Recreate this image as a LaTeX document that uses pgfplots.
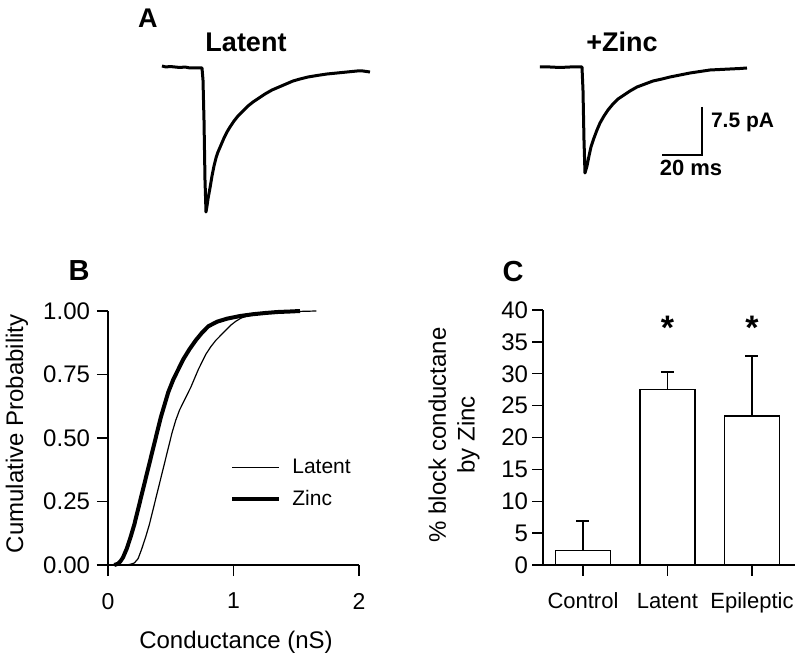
\documentclass[border=0pt]{standalone}
\usepackage{fontspec}
\setmainfont{Liberation Sans}
\usepackage{pgfplots}
\pgfplotsset{compat=1.18}
\newcommand{\fs}[1]{\fontsize{#1}{1.2\dimexpr #1\relax}\selectfont}
\begin{document}
\begin{tikzpicture}
\useasboundingbox (0,0) rectangle (400bp,328.5bp);
% ---------- Panel A: traces (pixel coordinates) ----------
\begin{axis}[at={(0,0)}, anchor=south west, width=400bp, height=328.5bp,
  scale only axis, xmin=0, xmax=800, ymin=0, ymax=657, y dir=reverse,
  hide axis, clip=false]
\addplot[black, line width=1.5bp, line join=round] coordinates {
(162,66) (166,67) (170,66.5) (175,67) (180,67.5) (185,67) (190,68) (195,68)
(200,68) (202,68) (203,80) (204,120) (205,180) (206,212) (207,206) (208,199)
(210,188) (212,176) (214,166) (216,158) (218,152) (221,145) (224,138)
(227,132) (230,127) (234,121) (238,116) (243,111) (248,106) (253,102)
(259,98) (265,94) (272,90) (279,87) (286,84) (293,81) (300,79) (308,77)
(317,75.5) (327,74) (337,73) (347,72) (357,71) (363,71) (370,72)};
\addplot[black, line width=1.5bp, line join=round] coordinates {
(540,67) (550,67) (560,67.5) (570,67) (582,67) (583,90) (584,140) (585,173)
(587,166) (589,156) (591,147) (594,138) (597,130) (600,123) (604,116)
(608,110) (613,104) (618,99) (624,95) (630,91) (637,87) (645,84) (653,81)
(662,79) (670,77) (680,75) (690,73) (700,71.5) (710,70) (720,69.5) (730,69)
(740,68.5) (747,68)};
% scale bar
\addplot[black, line width=0.9bp] coordinates {(702,107) (702,155) (662,155)};
\node[font=\bfseries\fs{10.5bp}, anchor=west] at (axis cs:704,122) {7.5 pA};
\node[font=\bfseries\fs{11bp}] at (axis cs:691,168) {20 ms};
\node[font=\bfseries\fs{13.5bp}] at (axis cs:246,42) {Latent};
\node[font=\bfseries\fs{13.5bp}] at (axis cs:622,42) {+Zinc};
\node[font=\bfseries\fs{13.5bp}] at (axis cs:148,18) {A};
\node[font=\bfseries\fs{14.5bp}] at (axis cs:79,271) {B};
\node[font=\bfseries\fs{14.5bp}] at (axis cs:513,272) {C};
\end{axis}
% ---------- Panel B ----------
\begin{axis}[at={(54bp,46bp)}, anchor=south west, width=125.5bp, height=127bp,
  scale only axis, xmin=0, xmax=2, ymin=0, ymax=1, clip=false,
  axis x line*=bottom, axis y line*=left,
  axis line style={line width=0.7bp, -}, tick align=outside,
  major tick length=5.5bp, tick style={line width=0.7bp, black},
  xtick={0,1,2}, ytick={0,0.25,0.5,0.75,1},
  /pgf/number format/assume math mode=true,
  yticklabel style={font=\fs{12bp}, /pgf/number format/fixed,
    /pgf/number format/fixed zerofill, /pgf/number format/precision=2},
  xticklabel style={font=\fs{11.5bp}, yshift=-5bp},
  label style={font=\fs{12bp}},
  xlabel={Conductance (nS)},
  xlabel style={at={(axis description cs:0.51,-0.305)}, anchor=center},
  ylabel={Cumulative Probability},
  ylabel style={at={(axis description cs:-0.363,0.516)}, anchor=center},
  legend style={draw=none, fill=none, at={(rel axis cs:0.486,0.435)},
    anchor=north west, inner sep=0pt, font=\fs{10.5bp}, row sep=3bp},
  legend cell align=left,
  legend image code/.code={\draw[#1] (0bp,0bp) -- (23.5bp,0bp); \path (27bp,0bp);}]
\addplot[black, line width=0.6bp] coordinates {
(0.15,0) (0.18,0.003) (0.21,0.008) (0.24,0.025) (0.27,0.065) (0.30,0.11)
(0.33,0.16) (0.36,0.22) (0.39,0.28) (0.42,0.34) (0.45,0.40) (0.48,0.46)
(0.51,0.52) (0.54,0.57) (0.57,0.61) (0.60,0.64) (0.63,0.67) (0.66,0.70)
(0.69,0.735) (0.72,0.77) (0.75,0.80) (0.78,0.83) (0.82,0.86) (0.86,0.885)
(0.90,0.905) (0.94,0.925) (0.98,0.945) (1.02,0.96) (1.06,0.972)
(1.12,0.982) (1.20,0.988) (1.30,0.993) (1.40,0.996) (1.50,0.998) (1.66,1.0)};
\addlegendentry{Latent}
\addplot[black, line width=2bp] coordinates {
(0.05,0) (0.08,0.005) (0.10,0.015) (0.12,0.03) (0.15,0.065) (0.18,0.11)
(0.21,0.16) (0.24,0.22) (0.27,0.28) (0.30,0.34) (0.33,0.40) (0.36,0.46)
(0.39,0.52) (0.42,0.58) (0.45,0.63) (0.48,0.68) (0.52,0.73) (0.56,0.77)
(0.60,0.81) (0.65,0.85) (0.70,0.885) (0.75,0.915) (0.80,0.94) (0.87,0.958)
(0.95,0.97) (1.05,0.98) (1.15,0.987) (1.25,0.992) (1.35,0.996)
(1.45,0.998) (1.53,1.0)};
\addlegendentry{Zinc}
\draw[line width=0.7bp] (axis cs:-0.088,0) -- (axis cs:0,0);
\end{axis}
% ---------- Panel C ----------
\begin{axis}[at={(271.5bp,46bp)}, anchor=south west, width=126bp, height=127.5bp,
  scale only axis, xmin=-0.473, xmax=2.509, ymin=0, ymax=40, clip=false,
  axis x line*=bottom, axis y line*=left,
  axis line style={line width=0.7bp, -}, tick align=outside,
  major tick length=5.5bp, tick style={line width=0.7bp, black},
  ybar, bar width=27.5bp,
  xtick={0,1,2}, xticklabels={Control,Latent,Epileptic},
  ytick={0,5,...,40},
  /pgf/number format/assume math mode=true,
  yticklabel style={font=\fs{12bp}, xshift=1.5bp},
  xticklabel style={font=\fs{11bp}, yshift=-5bp},
  label style={font=\fs{12bp}},
  ylabel={\% block conductane\\by Zinc},
  ylabel style={align=center, at={(axis description cs:-0.353,0.51)}, anchor=center}]
\addplot[draw=black, fill=white, line width=0.7bp,
  error bars/.cd, y dir=plus, y explicit,
  error bar style={line width=0.7bp, black},
  error mark options={black, mark size=3.25bp, line width=0.7bp, rotate=90}]
  coordinates {(0,2.25) +- (0,4.65) (1,27.55) +- (0,2.7) (2,23.4) +- (0,9.4)};
\draw[line width=0.7bp] (axis cs:-0.6,0) -- (axis cs:-0.473,0);
\node[font=\bfseries\fs{17bp}] at (axis cs:1,37.2) {*};
\node[font=\bfseries\fs{17bp}] at (axis cs:2,37.2) {*};
\end{axis}
\end{tikzpicture}
\end{document}
